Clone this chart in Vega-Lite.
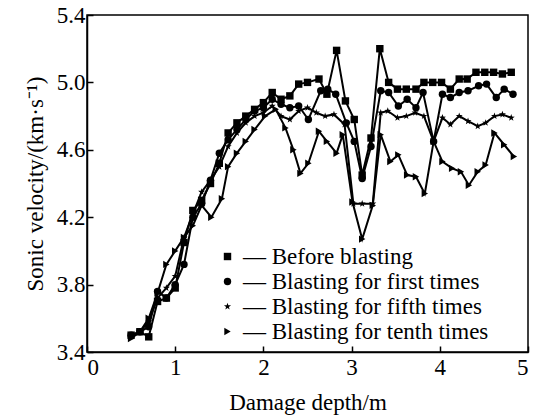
{
  "$schema": "https://vega.github.io/schema/vega-lite/v6.json",
  "autosize": {"type": "none"},
  "padding": {"left": 87, "top": 15, "right": 14, "bottom": 67},
  "width": 441,
  "height": 337,
  "background": "white",
  "config": {
    "font": "Liberation Serif",
    "view": {"stroke": "black", "strokeWidth": 1.5},
    "axis": {
      "grid": false,
      "domainColor": "black",
      "domainWidth": 1.5,
      "tickColor": "black",
      "tickWidth": 1.5,
      "tickSize": -6,
      "labelColor": "black",
      "labelFont": "Liberation Serif",
      "labelFontSize": 23,
      "titleColor": "black",
      "titleFont": "Liberation Serif",
      "titleFontSize": 23,
      "titleFontWeight": "normal"
    }
  },
  "data": {
    "values": [
      {"s": "Before blasting", "x": 0.5, "v": 3.5},
      {"s": "Before blasting", "x": 0.6, "v": 3.52},
      {"s": "Before blasting", "x": 0.7, "v": 3.49},
      {"s": "Before blasting", "x": 0.8, "v": 3.7},
      {"s": "Before blasting", "x": 0.9, "v": 3.72},
      {"s": "Before blasting", "x": 1.0, "v": 3.78},
      {"s": "Before blasting", "x": 1.1, "v": 4.05},
      {"s": "Before blasting", "x": 1.2, "v": 4.24},
      {"s": "Before blasting", "x": 1.3, "v": 4.3},
      {"s": "Before blasting", "x": 1.4, "v": 4.4},
      {"s": "Before blasting", "x": 1.5, "v": 4.52},
      {"s": "Before blasting", "x": 1.6, "v": 4.7},
      {"s": "Before blasting", "x": 1.7, "v": 4.76},
      {"s": "Before blasting", "x": 1.8, "v": 4.8},
      {"s": "Before blasting", "x": 1.9, "v": 4.84},
      {"s": "Before blasting", "x": 2.0, "v": 4.88},
      {"s": "Before blasting", "x": 2.1, "v": 4.94},
      {"s": "Before blasting", "x": 2.2, "v": 4.9},
      {"s": "Before blasting", "x": 2.3, "v": 4.92},
      {"s": "Before blasting", "x": 2.4, "v": 4.99},
      {"s": "Before blasting", "x": 2.5, "v": 5.0},
      {"s": "Before blasting", "x": 2.63, "v": 5.02},
      {"s": "Before blasting", "x": 2.72, "v": 4.93},
      {"s": "Before blasting", "x": 2.83, "v": 5.19},
      {"s": "Before blasting", "x": 2.93, "v": 4.89},
      {"s": "Before blasting", "x": 3.03, "v": 4.78},
      {"s": "Before blasting", "x": 3.12, "v": 4.45},
      {"s": "Before blasting", "x": 3.22, "v": 4.67},
      {"s": "Before blasting", "x": 3.32, "v": 5.2},
      {"s": "Before blasting", "x": 3.42, "v": 5.0},
      {"s": "Before blasting", "x": 3.52, "v": 4.96},
      {"s": "Before blasting", "x": 3.62, "v": 4.96},
      {"s": "Before blasting", "x": 3.73, "v": 4.96},
      {"s": "Before blasting", "x": 3.82, "v": 5.0},
      {"s": "Before blasting", "x": 3.92, "v": 5.0},
      {"s": "Before blasting", "x": 4.02, "v": 5.0},
      {"s": "Before blasting", "x": 4.12, "v": 4.96},
      {"s": "Before blasting", "x": 4.22, "v": 5.02},
      {"s": "Before blasting", "x": 4.31, "v": 5.02},
      {"s": "Before blasting", "x": 4.41, "v": 5.06},
      {"s": "Before blasting", "x": 4.51, "v": 5.06},
      {"s": "Before blasting", "x": 4.61, "v": 5.06},
      {"s": "Before blasting", "x": 4.71, "v": 5.05},
      {"s": "Before blasting", "x": 4.81, "v": 5.06},

      {"s": "Blasting for first times", "x": 0.5, "v": 3.5},
      {"s": "Blasting for first times", "x": 0.6, "v": 3.52},
      {"s": "Blasting for first times", "x": 0.7, "v": 3.55},
      {"s": "Blasting for first times", "x": 0.8, "v": 3.76},
      {"s": "Blasting for first times", "x": 0.9, "v": 3.72},
      {"s": "Blasting for first times", "x": 1.0, "v": 3.8},
      {"s": "Blasting for first times", "x": 1.1, "v": 3.92},
      {"s": "Blasting for first times", "x": 1.2, "v": 4.2},
      {"s": "Blasting for first times", "x": 1.3, "v": 4.28},
      {"s": "Blasting for first times", "x": 1.4, "v": 4.42},
      {"s": "Blasting for first times", "x": 1.5, "v": 4.58},
      {"s": "Blasting for first times", "x": 1.6, "v": 4.66},
      {"s": "Blasting for first times", "x": 1.7, "v": 4.72},
      {"s": "Blasting for first times", "x": 1.8, "v": 4.78},
      {"s": "Blasting for first times", "x": 1.9, "v": 4.83},
      {"s": "Blasting for first times", "x": 2.0, "v": 4.85},
      {"s": "Blasting for first times", "x": 2.1, "v": 4.9},
      {"s": "Blasting for first times", "x": 2.2, "v": 4.87},
      {"s": "Blasting for first times", "x": 2.3, "v": 4.85},
      {"s": "Blasting for first times", "x": 2.4, "v": 4.86},
      {"s": "Blasting for first times", "x": 2.51, "v": 4.78},
      {"s": "Blasting for first times", "x": 2.65, "v": 4.95},
      {"s": "Blasting for first times", "x": 2.73, "v": 4.96},
      {"s": "Blasting for first times", "x": 2.82, "v": 4.93},
      {"s": "Blasting for first times", "x": 2.94, "v": 4.76},
      {"s": "Blasting for first times", "x": 3.03, "v": 4.65},
      {"s": "Blasting for first times", "x": 3.12, "v": 4.43},
      {"s": "Blasting for first times", "x": 3.22, "v": 4.62},
      {"s": "Blasting for first times", "x": 3.33, "v": 4.95},
      {"s": "Blasting for first times", "x": 3.42, "v": 4.94},
      {"s": "Blasting for first times", "x": 3.53, "v": 4.86},
      {"s": "Blasting for first times", "x": 3.63, "v": 4.9},
      {"s": "Blasting for first times", "x": 3.73, "v": 4.85},
      {"s": "Blasting for first times", "x": 3.81, "v": 4.94},
      {"s": "Blasting for first times", "x": 3.93, "v": 4.65},
      {"s": "Blasting for first times", "x": 4.03, "v": 4.93},
      {"s": "Blasting for first times", "x": 4.12, "v": 4.91},
      {"s": "Blasting for first times", "x": 4.22, "v": 4.94},
      {"s": "Blasting for first times", "x": 4.32, "v": 4.95},
      {"s": "Blasting for first times", "x": 4.44, "v": 4.98},
      {"s": "Blasting for first times", "x": 4.53, "v": 4.99},
      {"s": "Blasting for first times", "x": 4.64, "v": 4.91},
      {"s": "Blasting for first times", "x": 4.73, "v": 4.96},
      {"s": "Blasting for first times", "x": 4.83, "v": 4.93},

      {"s": "Blasting for fifth times", "x": 0.5, "v": 3.49},
      {"s": "Blasting for fifth times", "x": 0.6, "v": 3.52},
      {"s": "Blasting for fifth times", "x": 0.7, "v": 3.58},
      {"s": "Blasting for fifth times", "x": 0.8, "v": 3.72},
      {"s": "Blasting for fifth times", "x": 0.9, "v": 3.78},
      {"s": "Blasting for fifth times", "x": 1.0, "v": 3.85},
      {"s": "Blasting for fifth times", "x": 1.1, "v": 4.08},
      {"s": "Blasting for fifth times", "x": 1.2, "v": 4.22},
      {"s": "Blasting for fifth times", "x": 1.3, "v": 4.35},
      {"s": "Blasting for fifth times", "x": 1.4, "v": 4.42},
      {"s": "Blasting for fifth times", "x": 1.5, "v": 4.5},
      {"s": "Blasting for fifth times", "x": 1.6, "v": 4.62},
      {"s": "Blasting for fifth times", "x": 1.7, "v": 4.7},
      {"s": "Blasting for fifth times", "x": 1.8, "v": 4.76},
      {"s": "Blasting for fifth times", "x": 1.9, "v": 4.8},
      {"s": "Blasting for fifth times", "x": 2.0, "v": 4.82},
      {"s": "Blasting for fifth times", "x": 2.1, "v": 4.86},
      {"s": "Blasting for fifth times", "x": 2.2, "v": 4.8},
      {"s": "Blasting for fifth times", "x": 2.3, "v": 4.78},
      {"s": "Blasting for fifth times", "x": 2.4, "v": 4.83},
      {"s": "Blasting for fifth times", "x": 2.5, "v": 4.85},
      {"s": "Blasting for fifth times", "x": 2.6, "v": 4.82},
      {"s": "Blasting for fifth times", "x": 2.7, "v": 4.8},
      {"s": "Blasting for fifth times", "x": 2.8, "v": 4.81},
      {"s": "Blasting for fifth times", "x": 2.92, "v": 4.75},
      {"s": "Blasting for fifth times", "x": 3.02, "v": 4.28},
      {"s": "Blasting for fifth times", "x": 3.12, "v": 4.28},
      {"s": "Blasting for fifth times", "x": 3.24, "v": 4.28},
      {"s": "Blasting for fifth times", "x": 3.33, "v": 4.82},
      {"s": "Blasting for fifth times", "x": 3.41, "v": 4.83},
      {"s": "Blasting for fifth times", "x": 3.52, "v": 4.79},
      {"s": "Blasting for fifth times", "x": 3.62, "v": 4.8},
      {"s": "Blasting for fifth times", "x": 3.72, "v": 4.82},
      {"s": "Blasting for fifth times", "x": 3.82, "v": 4.8},
      {"s": "Blasting for fifth times", "x": 3.93, "v": 4.65},
      {"s": "Blasting for fifth times", "x": 4.03, "v": 4.79},
      {"s": "Blasting for fifth times", "x": 4.12, "v": 4.75},
      {"s": "Blasting for fifth times", "x": 4.22, "v": 4.8},
      {"s": "Blasting for fifth times", "x": 4.32, "v": 4.77},
      {"s": "Blasting for fifth times", "x": 4.43, "v": 4.74},
      {"s": "Blasting for fifth times", "x": 4.52, "v": 4.76},
      {"s": "Blasting for fifth times", "x": 4.62, "v": 4.8},
      {"s": "Blasting for fifth times", "x": 4.71, "v": 4.81},
      {"s": "Blasting for fifth times", "x": 4.81, "v": 4.79},

      {"s": "Blasting for tenth times", "x": 0.5, "v": 3.48},
      {"s": "Blasting for tenth times", "x": 0.6, "v": 3.52},
      {"s": "Blasting for tenth times", "x": 0.7, "v": 3.6},
      {"s": "Blasting for tenth times", "x": 0.8, "v": 3.75},
      {"s": "Blasting for tenth times", "x": 0.9, "v": 3.92},
      {"s": "Blasting for tenth times", "x": 1.0, "v": 4.0},
      {"s": "Blasting for tenth times", "x": 1.1, "v": 4.08},
      {"s": "Blasting for tenth times", "x": 1.2, "v": 4.15},
      {"s": "Blasting for tenth times", "x": 1.3, "v": 4.27},
      {"s": "Blasting for tenth times", "x": 1.41, "v": 4.2},
      {"s": "Blasting for tenth times", "x": 1.53, "v": 4.31},
      {"s": "Blasting for tenth times", "x": 1.6, "v": 4.5},
      {"s": "Blasting for tenth times", "x": 1.7, "v": 4.58},
      {"s": "Blasting for tenth times", "x": 1.8, "v": 4.65},
      {"s": "Blasting for tenth times", "x": 1.9, "v": 4.72},
      {"s": "Blasting for tenth times", "x": 2.02, "v": 4.8},
      {"s": "Blasting for tenth times", "x": 2.14, "v": 4.84},
      {"s": "Blasting for tenth times", "x": 2.25, "v": 4.73},
      {"s": "Blasting for tenth times", "x": 2.34, "v": 4.6},
      {"s": "Blasting for tenth times", "x": 2.42, "v": 4.46},
      {"s": "Blasting for tenth times", "x": 2.51, "v": 4.52},
      {"s": "Blasting for tenth times", "x": 2.63, "v": 4.71},
      {"s": "Blasting for tenth times", "x": 2.72, "v": 4.65},
      {"s": "Blasting for tenth times", "x": 2.83, "v": 4.58},
      {"s": "Blasting for tenth times", "x": 2.9, "v": 4.69},
      {"s": "Blasting for tenth times", "x": 3.01, "v": 4.29},
      {"s": "Blasting for tenth times", "x": 3.12, "v": 4.07},
      {"s": "Blasting for tenth times", "x": 3.24, "v": 4.27},
      {"s": "Blasting for tenth times", "x": 3.33, "v": 4.69},
      {"s": "Blasting for tenth times", "x": 3.44, "v": 4.53},
      {"s": "Blasting for tenth times", "x": 3.53, "v": 4.57},
      {"s": "Blasting for tenth times", "x": 3.63, "v": 4.45},
      {"s": "Blasting for tenth times", "x": 3.73, "v": 4.44},
      {"s": "Blasting for tenth times", "x": 3.83, "v": 4.34},
      {"s": "Blasting for tenth times", "x": 3.93, "v": 4.65},
      {"s": "Blasting for tenth times", "x": 4.03, "v": 4.53},
      {"s": "Blasting for tenth times", "x": 4.14, "v": 4.49},
      {"s": "Blasting for tenth times", "x": 4.24, "v": 4.47},
      {"s": "Blasting for tenth times", "x": 4.33, "v": 4.39},
      {"s": "Blasting for tenth times", "x": 4.43, "v": 4.47},
      {"s": "Blasting for tenth times", "x": 4.52, "v": 4.51},
      {"s": "Blasting for tenth times", "x": 4.62, "v": 4.7},
      {"s": "Blasting for tenth times", "x": 4.73, "v": 4.63},
      {"s": "Blasting for tenth times", "x": 4.84, "v": 4.56}
    ]
  },
  "encoding": {
    "x": {
      "field": "x", "type": "quantitative",
      "scale": {"domain": [0, 5], "nice": false, "zero": false},
      "axis": {"values": [0, 1, 2, 3, 4, 5], "format": "d", "title": "Damage depth/m", "labelPadding": 10, "titlePadding": 12}
    },
    "y": {
      "field": "v", "type": "quantitative",
      "scale": {"domain": [3.4, 5.4], "nice": false, "zero": false},
      "axis": {"values": [3.4, 3.8, 4.2, 4.6, 5.0, 5.4], "format": ".1f", "title": "Sonic velocity/(km·s⁻¹)", "labelPadding": 8, "titlePadding": 9}
    }
  },
  "layer": [
    {
      "mark": {"type": "line", "color": "black", "strokeWidth": 2},
      "encoding": {"detail": {"field": "s"}}
    },
    {
      "mark": {"type": "point", "filled": true, "color": "black", "opacity": 1, "size": 55},
      "encoding": {
        "shape": {
          "field": "s", "type": "nominal",
          "scale": {
            "domain": ["Before blasting", "Blasting for first times", "Blasting for fifth times", "Blasting for tenth times"],
            "range": ["square", "circle", "M0,-1L0.235,-0.324L0.951,-0.309L0.38,0.124L0.588,0.809L0,0.4L-0.588,0.809L-0.38,0.124L-0.951,-0.309L-0.235,-0.324Z", "triangle-right"]
          },
          "legend": {
            "title": null,
            "orient": "none",
            "legendX": 129,
            "legendY": 230,
            "padding": 0,
            "symbolSize": 55,
            "symbolFillColor": "black",
            "symbolStrokeColor": "black",
            "symbolOpacity": 1,
            "labelFont": "Liberation Serif",
            "labelFontSize": 23,
            "labelColor": "black",
            "labelOffset": 4,
            "labelExpr": "'— ' + datum.label",
            "rowPadding": 1,
            "labelLimit": 400
          }
        }
      }
    }
  ]
}
